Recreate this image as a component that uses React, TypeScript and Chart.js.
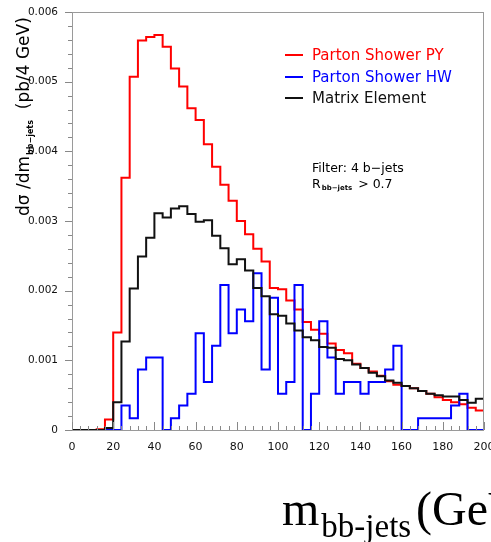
import React, { useEffect, useRef } from "react";
import { Chart, registerables } from "chart.js";

Chart.register(...registerables);

// Bin edges of the 4 GeV histogram (GeV)
const binEdges = [
  0, 4, 8, 12, 16, 20, 24, 28, 32, 36, 40, 44, 48, 52, 56, 60, 64, 68, 72, 76, 80,
  84, 88, 92, 96, 100, 104, 108, 112, 116, 120, 124, 128, 132, 136, 140, 144, 148,
  152, 156, 160, 164, 168, 172, 176, 180, 184, 188, 192, 196, 200,
];

// Parton Shower PY (red)
const pyValues = [
  0, 0, 0, 0.00001, 0.00015, 0.0014, 0.00362, 0.00507, 0.00559, 0.00564,
  0.00567, 0.0055, 0.00519, 0.00493, 0.00462, 0.00445, 0.0041, 0.00378, 0.00352, 0.00329,
  0.003, 0.00281, 0.0026, 0.00242, 0.00204, 0.00202, 0.00186, 0.00173, 0.00155, 0.00144,
  0.00138, 0.00124, 0.00115, 0.0011, 0.00095, 0.00089, 0.00084, 0.00078, 0.0007, 0.00065,
  0.00063, 0.0006, 0.00056, 0.00052, 0.00047, 0.00043, 0.0004, 0.00037, 0.00032, 0.00028,
];

// Parton Shower HW (blue)
const hwValues = [
  0, 0, 0, 0, 0, 0, 0.00035, 0.00017, 0.00087, 0.00104,
  0.00104, 0, 0.00017, 0.00035, 0.00052, 0.00139, 0.00069, 0.00121, 0.00208, 0.00139,
  0.00173, 0.00156, 0.00225, 0.00087, 0.0019, 0.00052, 0.00069, 0.00208, 0, 0.00052,
  0.00156, 0.00104, 0.00052, 0.00069, 0.00069, 0.00052, 0.00069, 0.00069, 0.00087, 0.00121,
  0, 0, 0.00017, 0.00017, 0.00017, 0.00017, 0.00035, 0.00052, 0, 0,
];

// Matrix Element (black)
const meValues = [
  0, 0, 0, 0, 0.00003, 0.0004, 0.00127, 0.00203, 0.00249, 0.00276,
  0.00311, 0.00305, 0.00318, 0.00321, 0.0031, 0.00299, 0.00301, 0.00279, 0.00261, 0.00238,
  0.00245, 0.00229, 0.00204, 0.00192, 0.00166, 0.00164, 0.00153, 0.00143, 0.00133, 0.00129,
  0.00119, 0.00118, 0.00102, 0.001, 0.00094, 0.00089, 0.00082, 0.00077, 0.00071, 0.00068,
  0.00063, 0.0006, 0.00056, 0.00052, 0.0005, 0.00048, 0.00048, 0.00043, 0.00039, 0.00045,
];

const seriesNames = ["Parton Shower PY", "Parton Shower HW", "Matrix Element"];
const seriesColors = ["#ff0000", "#0000ff", "#111111"];

const xMin = 0;
const xMax = 200;
const xMajorStep = 20;
const xMinorStep = 4;
const yMin = 0;
const yMax = 0.006;
const yMajorStep = 0.001;
const yMinorStep = 0.0002;

// Each bin's value sits at its lower edge; a closing point at the last upper edge.
function toSteps(values: number[]) {
  const pts = values.map((v, i) => ({ x: binEdges[i], y: v }));
  pts.push({ x: binEdges[values.length], y: values[values.length - 1] });
  return pts;
}

const FONT = "'DejaVu Sans', 'Liberation Sans', Arial, sans-serif";

const decorPlugin = {
  id: "decor",
  afterDraw(chart: any) {
    const ctx = chart.ctx as CanvasRenderingContext2D;
    const area = chart.chartArea;
    const xs = chart.scales.x;
    const ys = chart.scales.y;
    ctx.save();
    // frame
    ctx.strokeStyle = "#9a9a9a";
    ctx.lineWidth = 1;
    ctx.strokeRect(area.left + 0.5, area.top + 0.5, area.right - area.left - 1, area.bottom - area.top);

    // y ticks (outward)
    ctx.strokeStyle = "#888888";
    ctx.beginPath();
    const nY = Math.round((yMax - yMin) / yMinorStep);
    for (let i = 0; i <= nY; i++) {
      const v = yMin + i * yMinorStep;
      const major = i % Math.round(yMajorStep / yMinorStep) === 0;
      const py = Math.round(ys.getPixelForValue(v)) + 0.5;
      ctx.moveTo(area.left, py);
      ctx.lineTo(area.left - (major ? 7 : 4), py);
    }
    // x ticks (inward, upward)
    const nX = Math.round((xMax - xMin) / xMinorStep);
    for (let i = 0; i <= nX; i++) {
      const v = xMin + i * xMinorStep;
      const major = i % Math.round(xMajorStep / xMinorStep) === 0;
      const px = Math.round(xs.getPixelForValue(v)) + 0.5;
      ctx.moveTo(px, area.bottom);
      ctx.lineTo(px, area.bottom - (major ? 8 : 4));
    }
    ctx.stroke();

    // legend
    const legX = 285;
    const legY = [60, 82, 103];
    for (let i = 0; i < seriesNames.length; i++) {
      ctx.strokeStyle = seriesColors[i];
      ctx.lineWidth = 2;
      ctx.beginPath();
      ctx.moveTo(legX, legY[i] - 5);
      ctx.lineTo(legX + 18, legY[i] - 5);
      ctx.stroke();
      ctx.fillStyle = seriesColors[i];
      ctx.font = `15px ${FONT}`;
      ctx.textAlign = "left";
      ctx.textBaseline = "alphabetic";
      ctx.fillText(seriesNames[i], legX + 27, legY[i]);
    }

    // filter annotation
    ctx.fillStyle = "#000";
    ctx.font = `12.5px ${FONT}`;
    ctx.fillText("Filter: 4 b\u2212jets", 312, 172);
    ctx.fillText("R", 312, 188);
    const rW = ctx.measureText("R").width;
    ctx.font = `bold 7px ${FONT}`;
    ctx.fillText("bb\u2212jets", 312 + rW + 1, 190);
    const sW = ctx.measureText("bb\u2212jets").width;
    ctx.font = `12.5px ${FONT}`;
    ctx.fillText(" > 0.7", 312 + rW + 1 + sW + 2, 188);

    // y-axis title (rotated)
    ctx.save();
    ctx.translate(29, 216);
    ctx.rotate(-Math.PI / 2);
    ctx.fillStyle = "#000";
    ctx.font = `17px ${FONT}`;
    let cx = 0;
    ctx.fillText("d\u03c3 /dm", cx, 0);
    cx += ctx.measureText("d\u03c3 /dm").width;
    ctx.font = `bold 8px ${FONT}`;
    ctx.fillText("bb\u2212jets", cx + 1, 4);
    cx += ctx.measureText("bb\u2212jets").width + 1;
    ctx.font = `17px ${FONT}`;
    ctx.fillText("  (pb/4 GeV)", cx, 0);
    ctx.restore();

    // x-axis title
    ctx.fillStyle = "#000";
    ctx.font = `48px 'Liberation Serif', 'Times New Roman', serif`;
    ctx.fillText("m", 282, 525);
    const mW = ctx.measureText("m").width;
    ctx.font = `33px 'Liberation Serif', 'Times New Roman', serif`;
    ctx.fillText("bb-jets", 282 + mW + 2, 537);
    ctx.font = `48px 'Liberation Serif', 'Times New Roman', serif`;
    ctx.fillText("(GeV)", 416, 525);

    ctx.restore();
  },
};

export default function App() {
  const ref = useRef<HTMLCanvasElement | null>(null);
  useEffect(() => {
    if (!ref.current) return;
    const mk = (i: number, values: number[], order: number) => ({
      label: seriesNames[i],
      data: toSteps(values),
      borderColor: seriesColors[i],
      borderWidth: 2,
      pointRadius: 0,
      stepped: "before",
      fill: false,
      order,
      clip: 4,
    });
    const chart = new Chart(ref.current, {
      type: "line",
      data: {
        datasets: [mk(0, pyValues, 3), mk(1, hwValues, 2), mk(2, meValues, 1)] as any,
      },
      options: {
        animation: false,
        responsive: false,
        events: [],
        layout: { padding: { top: 12, right: 7, left: 0, bottom: 0 } },
        plugins: { legend: { display: false }, tooltip: { enabled: false }, title: { display: false } },
        scales: {
          x: {
            type: "linear",
            min: xMin,
            max: xMax,
            grid: { display: false },
            border: { display: false },
            ticks: {
              stepSize: xMajorStep,
              padding: 3,
              color: "#111",
              font: { family: FONT, size: 11 },
              maxRotation: 0,
              autoSkip: false,
              callback: (v: any) => String(v),
            },
            afterFit: (s: any) => {
              s.height = 112;
              s.paddingLeft = 0;
              s.paddingRight = 0;
            },
          },
          y: {
            type: "linear",
            min: yMin,
            max: yMax,
            grid: { display: false },
            border: { display: false },
            ticks: {
              stepSize: yMajorStep,
              padding: 6,
              color: "#111",
              font: { family: FONT, size: 10.5 },
              callback: (v: any) => (Number(v) === 0 ? "0" : Number(v).toFixed(3)),
            },
            afterFit: (s: any) => {
              s.width = 72;
              s.paddingTop = 0;
              s.paddingBottom = 0;
            },
          },
        },
      },
      plugins: [decorPlugin],
    });
    return () => chart.destroy();
  }, []);
  return (
    <div style={{ position: "fixed", left: 0, top: 0, width: 491, height: 542, background: "#fff" }}>
      <canvas ref={ref} width={491} height={542} style={{ display: "block" }} />
    </div>
  );
}
